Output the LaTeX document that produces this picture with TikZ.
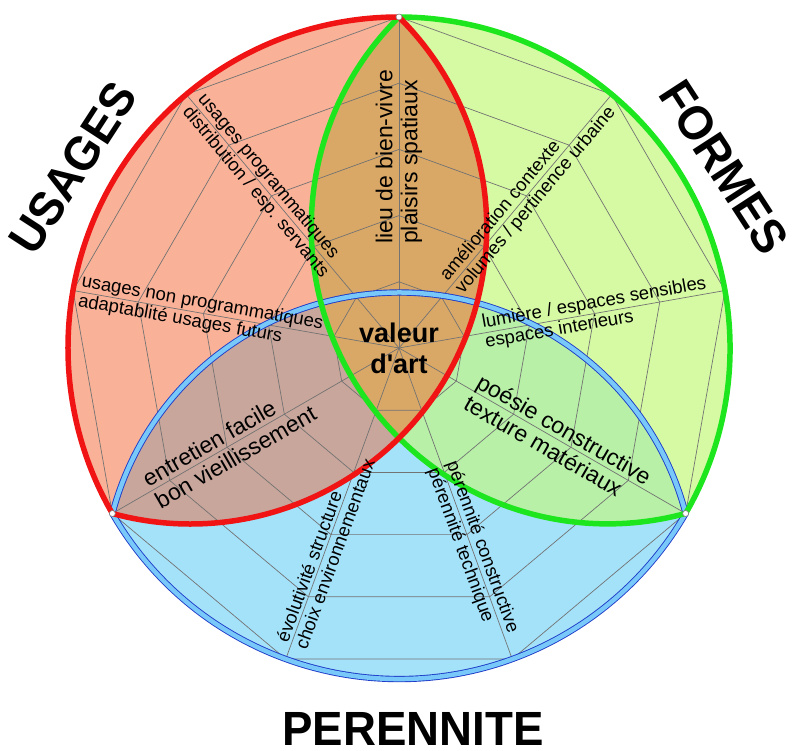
\documentclass[tikz,border=0pt]{standalone}
\usepackage{fontspec}
\setmainfont{Liberation Sans}
\newfontfamily\plainsans{Liberation Sans}

\definecolor{usagesfill}{RGB}{249,178,152}
\definecolor{formesfill}{RGB}{214,250,163}
\definecolor{perenfill}{RGB}{164,226,250}
\definecolor{usfofill}{RGB}{218,168,102}
\definecolor{uspefill}{RGB}{200,166,155}
\definecolor{fopefill}{RGB}{184,240,168}
\definecolor{usagesline}{RGB}{240,20,20}
\definecolor{formesline}{RGB}{30,230,30}
\definecolor{perenline}{RGB}{120,200,250}
\definecolor{perenedge}{RGB}{30,60,200}

\newcommand{\bigR}{331}
\newcommand{\lobeR}{296.4}
\newcommand{\lobe}[1]{({#1-60}:\bigR) arc[start angle=#1-60, end angle=#1+60, radius=\bigR] arc[start angle=#1+104.75, end angle=#1+255.25, radius=\lobeR] -- cycle}

\begin{document}
\begin{tikzpicture}[x=1pt, y=1pt, line join=round,
  web/.style={draw=black!55, line width=0.7pt},
  usline/.style={draw=usagesline, line width=5.5pt},
  foline/.style={draw=formesline, line width=5.5pt},
  peline/.style={draw=perenedge, line width=0.9pt, double=perenline, double distance=4.5pt},
  smalllab/.style={anchor=west, align=left, inner sep=0pt, font=\fontsize{18.5}{20}\selectfont},
  lenslab/.style={anchor=west, align=left, inner sep=0pt, font=\fontsize{23}{25}\selectfont},
  title/.style={font=\bfseries\fontsize{48}{48}\selectfont}]

\useasboundingbox (-399,-403) rectangle (394,348);

\fill[usagesfill] \lobe{150};
\fill[formesfill] \lobe{30};
\fill[perenfill] \lobe{270};
\begin{scope}
  \clip \lobe{30};
  \fill[fopefill] \lobe{270};
\end{scope}
\begin{scope}
  \clip \lobe{150};
  \fill[uspefill] \lobe{270};
  \fill[usfofill] \lobe{30};
\end{scope}

% web
\foreach \a in {10,50,...,330}
  \draw[web] (0,0) -- (\a:\bigR);
\foreach \r in {66.2,132.4,198.6,264.8,331}
  \draw[web] (10:\r) -- (50:\r) -- (90:\r) -- (130:\r) -- (170:\r) -- (210:\r) -- (250:\r) -- (290:\r) -- (330:\r) -- cycle;

\draw[peline] \lobe{270};
\draw[foline] \lobe{30};
\draw[usline] \lobe{150};

\foreach \a in {90,210,330}
  \draw[fill=white, draw=gray, line width=0.6pt] (\a:\bigR) circle (3);

\node[lenslab, rotate=90] (bienvivre) at (90:104) {lieu de bien-vivre\\plaisirs spatiaux};
\node[smalllab, rotate=-50] (programme) at (130:320) {usages programmatiques\\distribution / esp. servants};
\node[smalllab, rotate=-10] (nonprogramme) at (170:324) {usages non programmatiques\\adaptablité usages futurs};
\node[lenslab, rotate=30] (entretien) at (210:287) {entretien facile\\bon vieillissement};
\node[smalllab, rotate=70] (evolutivite) at (250:316) {évolutivité structure\\choix environnementaux};
\node[smalllab, rotate=-70] (technique) at (290:125) {pérennité constructive\\pérennité technique};
\node[lenslab, rotate=-30] (poesie) at (330:85) {poésie constructive\\texture matériaux};
\node[smalllab, rotate=10] (lumiere) at (10:86) {lumière / espaces sensibles\\espaces interieurs};
\node[smalllab, rotate=50] (contexte) at (50:82) {amélioration contexte\\volumes / pertinence urbaine};

\node[align=center, inner sep=0pt, font=\plainsans\bfseries\fontsize{27}{31}\selectfont] (valeur) at (0,0) {valeur\\d'art};

\node[title, rotate=57, xscale=0.95] (usages) at (-326,180) {USAGES};
\node[title, rotate=-57, xscale=0.95] (formes) at (325,181) {FORMES};
\node[title, xscale=0.95] (perennite) at (14,-381) {PERENNITE};
\end{tikzpicture}
\end{document}
